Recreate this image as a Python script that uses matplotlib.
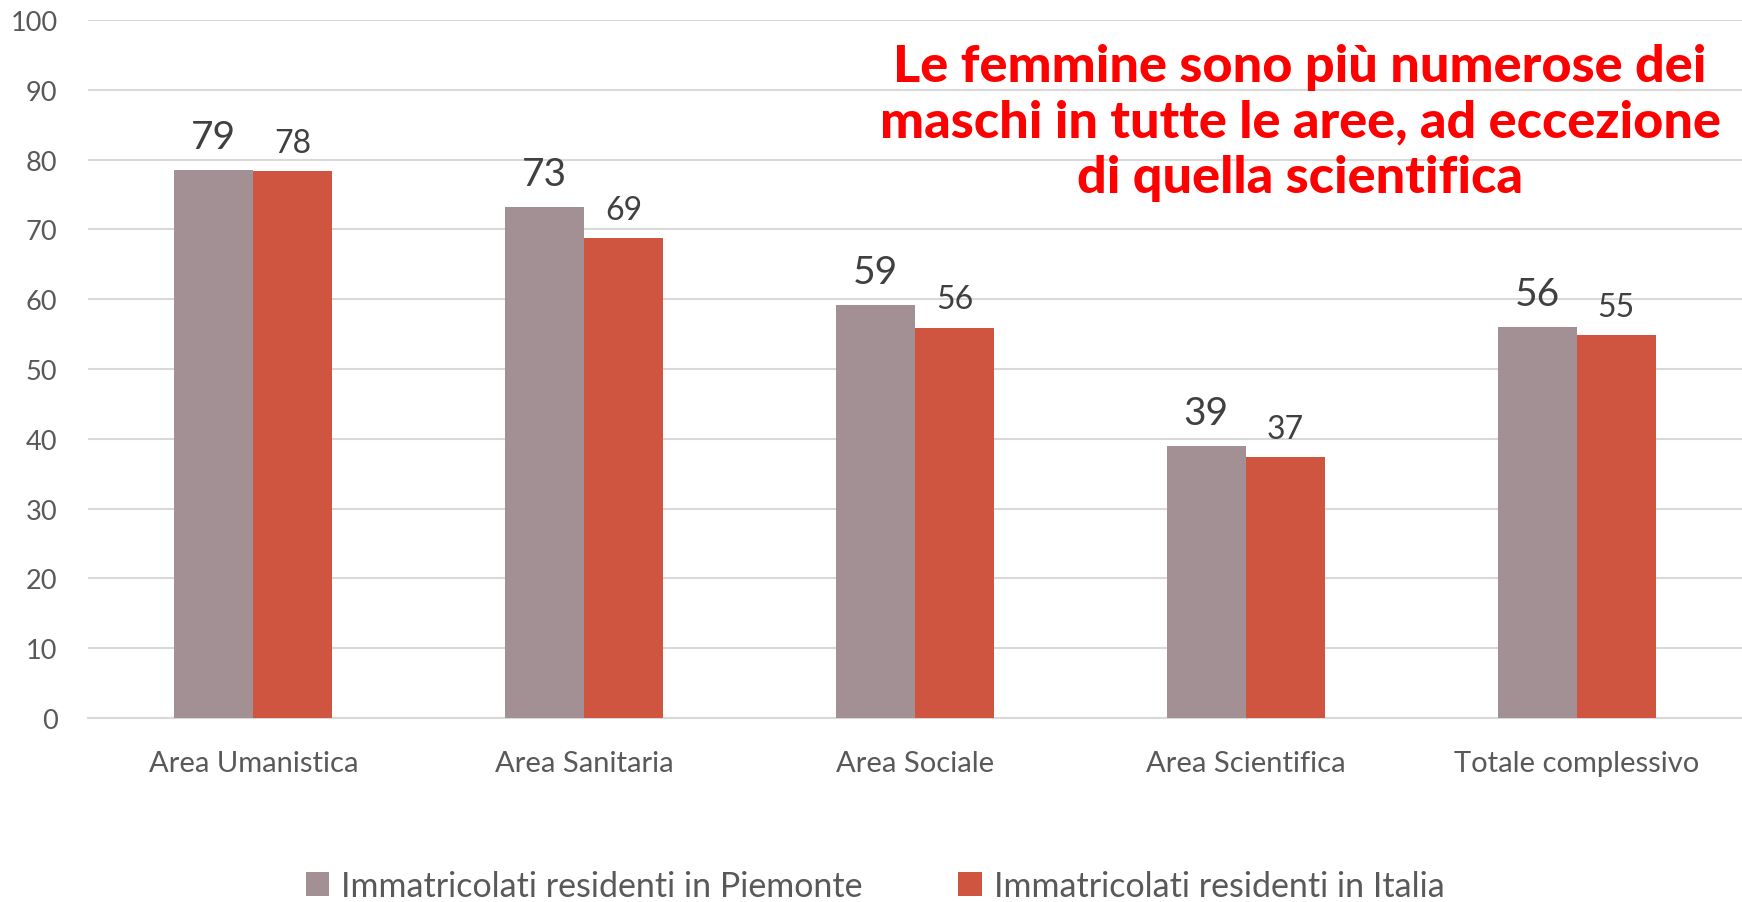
import matplotlib
matplotlib.use("Agg")
import matplotlib.pyplot as plt
import numpy as np
from matplotlib.patches import Patch

categories = ["Area Umanistica", "Area Sanitaria", "Area Sociale", "Area Scientifica", "Totale complessivo"]
piemonte = [78.5, 73.2, 59.2, 39.0, 56.0]
italia = [78.3, 68.7, 55.9, 37.4, 54.8]
series_names = ["Immatricolati residenti in Piemonte", "Immatricolati residenti in Italia"]
yticks = list(range(0, 101, 10))
title = "Le femmine sono più numerose dei\nmaschi in tutte le aree, ad eccezione\ndi quella scientifica"

C_PIE = "#A39094"
C_ITA = "#CF5541"
TXT = "#595959"
FONT = "Lato"

plt.rcParams['font.family'] = [FONT, 'DejaVu Sans']

fig = plt.figure(figsize=(17.42, 9.03), dpi=100)
ax = fig.add_axes([88/1742, 1-719/903, 1-88/1742, (719-21)/903])

x = np.arange(len(categories))
w = 0.239
b1 = ax.bar(x - w/2, piemonte, w, color=C_PIE, zorder=3)
b2 = ax.bar(x + w/2, italia, w, color=C_ITA, zorder=3)

for rect, v in zip(b1, piemonte):
    ax.annotate(str(int(np.floor(v + 0.5))), (rect.get_x() + rect.get_width()/2, v),
                xytext=(0, 16), textcoords="offset points", ha="center", va="baseline",
                fontsize=28, color="#404040")
for rect, v in zip(b2, italia):
    ax.annotate(str(int(np.floor(v + 0.5))), (rect.get_x() + rect.get_width()/2, v),
                xytext=(0, 14), textcoords="offset points", ha="center", va="baseline",
                fontsize=23, color="#404040")

ax.set_xlim(-0.5, len(categories) - 0.5)
ax.set_ylim(0, 100)
ax.set_yticks(yticks)
ax.set_yticklabels([str(t) for t in yticks], fontsize=19.5, color=TXT)
ax.set_xticks(x)
ax.set_xticklabels(categories, fontsize=21, color=TXT)
ax.tick_params(axis='y', length=0, pad=22)
ax.tick_params(axis='x', length=0, pad=23)
ax.grid(axis='y', color="#D9D9D9", linewidth=1.5, zorder=0)
for s in ["top", "right", "left"]:
    ax.spines[s].set_visible(False)
ax.spines["bottom"].set_color("#D9D9D9")
ax.spines["bottom"].set_linewidth(1.5)

fig.text(1300/1742, 1-123/903, title, ha="center", va="center", fontsize=37.5,
         fontweight="black", color="#FF0000", linespacing=1.22)

handles = [Patch(facecolor=C_PIE), Patch(facecolor=C_ITA)]
fig.legend(handles, series_names, loc="center", bbox_to_anchor=(875/1742, 1-887/903),
           ncol=2, frameon=False, fontsize=24.5, labelcolor=TXT, handlelength=0.7,
           handleheight=0.7, handletextpad=0.35, columnspacing=2.8, borderpad=0.1)

fig.savefig("out.png", dpi=100)
